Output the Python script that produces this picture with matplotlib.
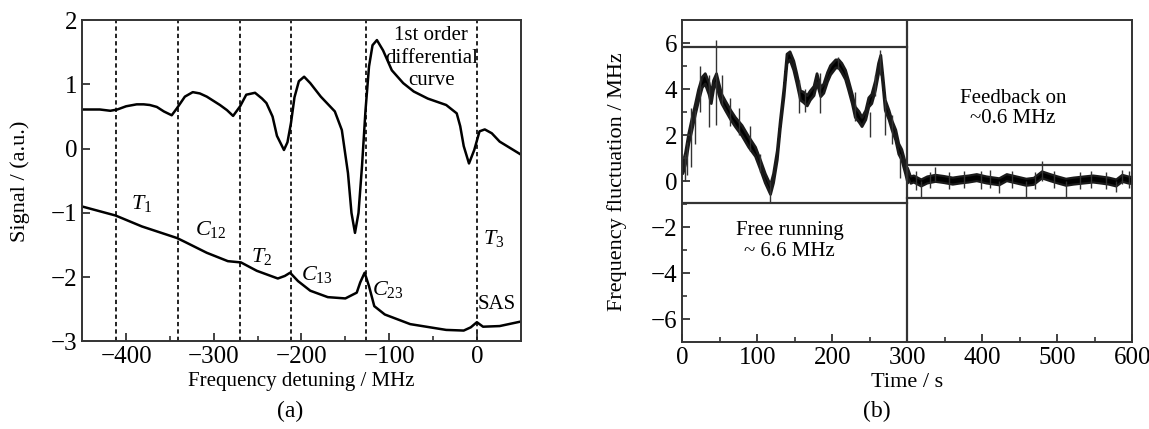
import matplotlib
matplotlib.use("Agg")
import matplotlib.pyplot as plt

plt.rcParams['font.family'] = ['Liberation Serif', 'DejaVu Serif']
plt.rcParams['mathtext.fontset'] = 'custom'
plt.rcParams['mathtext.rm'] = 'Liberation Serif'
plt.rcParams['mathtext.it'] = 'Liberation Serif:italic'
plt.rcParams['font.size'] = 15

# (a) spectra, frequency detuning in MHz
diff_x = [-450, -430, -418, -410, -400, -388, -380, -373, -365, -357, -348, -342, -333, -324,
          -316, -308, -293, -285, -278, -270, -263, -253, -245, -240, -233, -228, -220, -216,
          -212, -208, -203, -197, -190, -178, -162, -154, -147, -143, -139, -135, -131, -127,
          -123, -119, -114, -107, -97, -84, -72, -56, -35, -23, -19, -15, -9, -3, 3, 9, 17,
          26, 38, 50]
diff_y = [0.61, 0.61, 0.59, 0.61, 0.66, 0.69, 0.69, 0.68, 0.65, 0.58, 0.52, 0.63, 0.81, 0.88,
          0.86, 0.81, 0.68, 0.60, 0.51, 0.66, 0.84, 0.87, 0.78, 0.71, 0.50, 0.20, -0.02, 0.10,
          0.40, 0.80, 1.05, 1.12, 1.02, 0.81, 0.58, 0.29, -0.38, -1.0, -1.31, -1.0, -0.27, 0.6,
          1.28, 1.61, 1.69, 1.53, 1.22, 1.02, 0.89, 0.78, 0.68, 0.55, 0.35, 0.04, -0.23, -0.02,
          0.27, 0.30, 0.24, 0.11, 0.01, -0.09]
sas_x = [-450, -412, -382, -342, -333, -308, -284, -269, -251, -227, -219, -213, -204, -190,
         -170, -150, -137, -133, -128, -123, -117, -105, -76, -35, -15, -7, 0, 7, 26, 50]
sas_y = [-0.90, -1.04, -1.21, -1.39, -1.45, -1.62, -1.75, -1.77, -1.90, -2.02, -1.98, -1.93,
         -2.06, -2.21, -2.31, -2.33, -2.24, -2.08, -1.93, -2.14, -2.45, -2.58, -2.73, -2.82,
         -2.83, -2.78, -2.70, -2.77, -2.76, -2.69]
marker_x = [-411, -341, -270, -212, -127, 0]
peak_names = [r'$T_1$', r'$C_{12}$', r'$T_2$', r'$C_{13}$', r'$C_{23}$', r'$T_3$']
peak_name_x = [-382, -304, -245, -182, -101, 19]
peak_name_y = [-0.85, -1.26, -1.67, -1.96, -2.19, -1.39]

# (b) frequency fluctuation, free running: dark core of the trace plus noise spikes
free_t = [0, 3.6, 8, 12, 17, 21, 26, 30, 35, 38, 41, 45, 48, 52, 57, 64, 70, 79, 88, 97,
          104, 110, 117, 121, 126, 130, 135, 139, 143, 148, 152, 157, 161, 166, 170, 175, 179,
          184, 188, 193, 197, 204, 208, 212, 217, 221, 226, 230, 235, 239, 244, 248, 252, 257,
          261, 264, 267, 270, 275, 279, 284, 288, 292, 297, 300]
free_lo = [0.35, 0.75, 1.65, 2.2, 2.95, 3.5, 4.1, 4.25, 3.8, 3.4, 4.0, 4.3, 3.8, 3.4, 3.1,
           2.7, 2.4, 2.0, 1.5, 1.1, 0.5, -0.05, -0.55, -0.05, 0.95, 2.3, 3.7, 5.15, 5.3, 4.85,
           4.3, 3.55, 3.45, 3.3, 3.55, 3.75, 4.3, 3.7, 3.85, 4.35, 4.65, 4.95, 4.95, 4.75,
           4.45, 4.0, 3.4, 2.8, 2.6, 2.4, 2.7, 3.25, 3.4, 4.0, 4.7, 5.1, 4.15, 3.1, 2.7, 2.25,
           1.8, 1.2, 0.95, 0.35, -0.05]
free_hi = [0.8, 1.25, 2.1, 2.7, 3.4, 4.0, 4.55, 4.7, 4.3, 3.8, 4.4, 4.7, 4.3, 3.8, 3.5, 3.1,
           2.8, 2.45, 1.95, 1.5, 0.9, 0.35, -0.15, 0.35, 1.35, 2.65, 4.1, 5.55, 5.65, 5.25,
           4.7, 3.95, 3.9, 3.75, 3.95, 4.15, 4.7, 4.1, 4.25, 4.75, 5.05, 5.3, 5.3, 5.15, 4.85,
           4.4, 3.8, 3.25, 3.05, 2.8, 3.1, 3.65, 3.8, 4.4, 5.15, 5.5, 4.55, 3.55, 3.1, 2.65,
           2.25, 1.65, 1.4, 0.8, 0.35]
free_spike_t = [3, 6, 11, 17, 24, 36, 45, 53, 64, 75, 90, 104, 117, 156, 163, 184, 207, 230,
                250, 257, 264, 270, 280, 290]
free_spike_lo = [0.0, 0.28, 0.6, 1.6, 3.0, 2.37, 2.45, 3.3, 2.4, 2.0, 1.3, 0.4, -0.96, 2.95,
                 3.0, 2.95, 4.9, 2.6, 1.94, 3.7, 4.6, 2.01, 1.6, 0.13]
free_spike_hi = [1.2, 1.7, 3.2, 3.1, 5.0, 4.6, 6.14, 4.6, 3.6, 3.2, 2.4, 1.2, 0.0, 4.4, 4.0,
                 4.7, 5.4, 3.9, 3.0, 4.6, 5.71, 3.6, 2.9, 1.2]

# feedback on
lock_t = [300, 304, 308, 318, 326, 337, 348, 360, 370, 381, 392, 405, 422, 432, 445, 458,
          468, 479, 490, 500, 511, 521, 535, 547, 557, 568, 578, 586, 594, 600]
lock_lo = [0.2, -0.08, -0.03, -0.2, -0.07, 0.0, -0.05, -0.12, -0.07, -0.03, 0.03, -0.07,
           -0.15, 0.03, -0.07, -0.17, -0.13, 0.15, 0.03, -0.07, -0.17, -0.12, -0.07, -0.03,
           -0.07, -0.12, -0.2, 0.0, -0.07, -0.1]
lock_hi = [0.6, 0.23, 0.27, 0.1, 0.23, 0.3, 0.25, 0.18, 0.23, 0.27, 0.33, 0.23, 0.15, 0.33,
           0.23, 0.13, 0.17, 0.45, 0.33, 0.23, 0.13, 0.18, 0.23, 0.27, 0.23, 0.18, 0.1, 0.3,
           0.23, 0.2]
lock_spike_t = [312, 318, 330, 337, 355, 375, 398, 410, 422, 440, 458, 470, 479, 495, 511,
                530, 545, 565, 578, 586, 595]
lock_spike_lo = [-0.4, -0.67, -0.3, 0.0, -0.35, -0.3, -0.35, -0.3, -0.52, -0.3, -0.67, -0.35,
                 0.0, -0.3, -0.67, -0.35, -0.3, -0.35, -0.45, -0.1, -0.3]
lock_spike_hi = [0.45, 0.0, 0.4, 0.64, 0.4, 0.45, 0.45, 0.5, 0.0, 0.45, 0.0, 0.4, 0.87, 0.45,
                 0.0, 0.4, 0.45, 0.4, 0.0, 0.5, 0.45]

free_bounds = [5.85, -0.95]
lock_bounds = [0.72, -0.72]

fig = plt.figure(figsize=(11.49, 4.29), dpi=100)
spine_c = '#333333'

# ---- panel (a)
ax1 = fig.add_axes([0.0716, 0.204, 0.3816, 0.749])
for xv in marker_x:
    ax1.axvline(xv, color='#222222', lw=1.4, ls=(0, (2.2, 1.6)))
ax1.plot(diff_x, diff_y, color='black', lw=1.8)
ax1.plot(sas_x, sas_y, color='black', lw=1.8)
for name, nx, ny in zip(peak_names, peak_name_x, peak_name_y):
    ax1.text(nx, ny, name, ha='center', va='center', fontsize=16)
ax1.text(23, -2.42, 'SAS', ha='center', va='center', fontsize=15)
ax1.text(-52, 1.41, '1st order\ndifferential\ncurve', ha='center', va='center',
         fontsize=15, linespacing=1.25)
ax1.set_xlim(-450, 50)
ax1.set_ylim(-3, 2)
ax1.set_xticks([-400, -300, -200, -100, 0])
ax1.set_xticks([-350, -250, -150, -50], minor=True)
ax1.set_yticks([-3, -2, -1, 0, 1, 2])
ax1.tick_params(direction='in', length=6, width=1.3, colors=spine_c, labelcolor='black',
                labelsize=18)
ax1.tick_params(which='minor', direction='in', length=3.5, width=1.2, colors=spine_c)
ax1.set_xlabel('Frequency detuning / MHz', fontsize=15)
ax1.set_ylabel('Signal / (a.u.)', fontsize=16)
ax1.xaxis.set_label_coords(0.5, -0.095)
ax1.yaxis.set_label_coords(-0.12, 0.5)
for s in ax1.spines.values():
    s.set_color(spine_c)
    s.set_linewidth(1.4)
fig.text(0.2524, 0.04, '(a)', ha='center', va='center', fontsize=17)

# ---- panel (b)
ax2 = fig.add_axes([0.5938, 0.2021, 0.3917, 0.7506])
ax2.vlines(free_spike_t, free_spike_lo, free_spike_hi, color='#333333', lw=1.0)
ax2.fill_between(free_t, free_lo, free_hi, facecolor='black', edgecolor='#1a1a1a', lw=2.0)
ax2.vlines(lock_spike_t, lock_spike_lo, lock_spike_hi, color='#333333', lw=1.0)
ax2.fill_between(lock_t, lock_lo, lock_hi, facecolor='black', edgecolor='#1a1a1a', lw=1.6)
for b in free_bounds:
    ax2.plot([0, 300], [b, b], color=spine_c, lw=1.6)
for b in lock_bounds:
    ax2.plot([300, 600], [b, b], color=spine_c, lw=1.6)
ax2.axvline(300, color=spine_c, lw=1.6)
ax2.text(143, -2.12, 'Free running', ha='center', va='center', fontsize=15)
ax2.text(143, -3.06, '~ 6.6 MHz', ha='center', va='center', fontsize=15)
ax2.text(441, 3.6, 'Feedback on', ha='center', va='center', fontsize=15)
ax2.text(441, 2.73, '~0.6 MHz', ha='center', va='center', fontsize=15)
ax2.set_xlim(0, 600)
ax2.set_ylim(-7, 7)
ax2.set_xticks([0, 100, 200, 300, 400, 500, 600])
ax2.set_xticks([50, 150, 250, 350, 450, 550], minor=True)
ax2.set_yticks([-6, -4, -2, 0, 2, 4, 6])
ax2.set_yticks([-5, -3, -1, 1, 3, 5], minor=True)
ax2.tick_params(direction='in', length=6, width=1.3, colors=spine_c, labelcolor='black',
                labelsize=18)
ax2.tick_params(which='minor', direction='in', length=3.5, width=1.2, colors=spine_c)
ax2.set_xlabel('Time / s', fontsize=16)
ax2.set_ylabel('Frequency fluctuation / MHz', fontsize=16)
ax2.xaxis.set_label_coords(0.5, -0.095)
ax2.yaxis.set_label_coords(-0.123, 0.5)
for s in ax2.spines.values():
    s.set_color(spine_c)
    s.set_linewidth(1.4)
fig.text(0.7634, 0.04, '(b)', ha='center', va='center', fontsize=17)

fig.savefig('out.png', dpi=100)
